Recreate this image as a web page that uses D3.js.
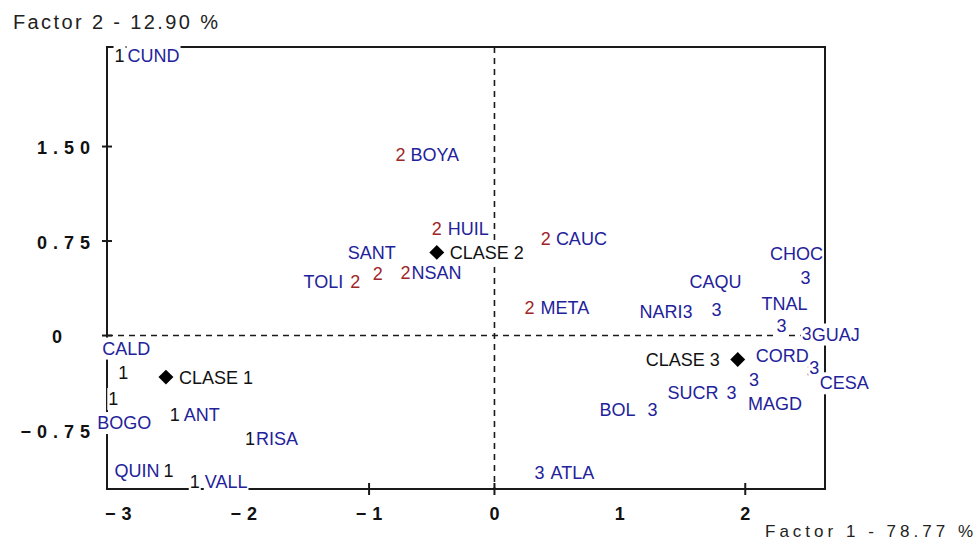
<!DOCTYPE html>
<html>
<head>
<meta charset="utf-8">
<script src="https://cdn.jsdelivr.net/npm/d3@7/dist/d3.min.js"></script>
<style>
  html, body { margin: 0; padding: 0; background: #fff; }
  svg { display: block; }
  text { font-family: "Liberation Sans", Arial, sans-serif; }
</style>
</head>
<body>
<svg id="chart" width="974" height="552"></svg>
<script>
// Departments and their coordinates on the first two factors
const categories = ["CUND", "CALD", "BOGO", "ANT", "RISA", "QUIN", "VALL",
                    "BOYA", "HUIL", "CAUC", "SANT", "NSAN", "TOLI", "META",
                    "CHOC", "CAQU", "NARI", "GUAJ", "TNAL", "CESA", "MAGD", "CORD", "SUCR", "BOL", "ATLA"];
const factor1 = [-2.99, -2.96, -3.04, -2.55, -1.95, -2.60, -2.39,
                 -0.75, -0.46, 0.41, -0.93, -0.71, -1.11, 0.28,
                 2.48, 1.77, 1.54, 2.49, 2.29, 2.53, 2.07, 2.55, 1.89, 1.26, 0.36];
const factor2 = [2.22, -0.29, -0.50, -0.63, -0.82, -1.07, -1.16,
                 1.44, 0.85, 0.77, 0.49, 0.50, 0.43, 0.22,
                 0.46, 0.21, 0.19, 0.02, 0.08, -0.28, -0.35, -0.25, -0.45, -0.59, -1.09];
const cluster = [1, 1, 1, 1, 1, 1, 1,
                 2, 2, 2, 2, 2, 2, 2,
                 3, 3, 3, 3, 3, 3, 3, 3, 3, 3, 3];

// Class centres
const classNames = ["CLASE 1", "CLASE 2", "CLASE 3"];
const classF1 = [-2.62, -0.46, 1.94];
const classF2 = [-0.33, 0.66, -0.19];

// Axis ticks
const xTickValues = [-3, -2, -1, 0, 1, 2];
const xTickMarks = [-1, 0, 2];
const yTickValues = [-0.75, 0, 0.75, 1.5];
const yTickLabels = ["\u22120.75", "0", "0.75", "1.50"];
const axisTitleX = "Factor 1  -  78.77 %";
const axisTitleY = "Factor 2  -  12.90 %";

// Where each name sits relative to its class numeral: side, dx, dy (px)
const labelPlacement = [
  ["right", 8, 0], ["above", 3, -24], ["below", 11, 24], ["right", 9, 0], ["right", 6, 0], ["left", -9, 0], ["right", 10, 0],
  ["right", 10, 0], ["right", 11, 0], ["right", 10, 0], ["above", -6, -21], ["right", 6, 0], ["left", -12, 0], ["right", 11, 0],
  ["above", -9, -24], ["above", -1, -28], ["left", -5, 0], ["right", 5, 1], ["above", 3, -22], ["right", 8, 12],
  ["below", 21, 24], ["above", -32, -12], ["left", -13, 0], ["left", -17, 0], ["right", 11, 0]
];

const BLUE = "#22229a", RED = "#a0252a", INK = "#111";
const numeralColor = { 1: INK, 2: RED, 3: BLUE };

const svg = d3.select("#chart");
const plotLeft = 107, plotRight = 825, plotTop = 47, plotBottom = 489;

const x = d3.scaleLinear().domain([-3.09, 2.636]).range([plotLeft, plotRight]);
const y = d3.scaleLinear().domain([-1.218, 2.29]).range([plotBottom, plotTop]);

// Frame
svg.append("rect")
  .attr("x", plotLeft).attr("y", plotTop)
  .attr("width", plotRight - plotLeft).attr("height", plotBottom - plotTop)
  .attr("fill", "none").attr("stroke", "#1a1a1a").attr("stroke-width", 2);

// Origin lines
svg.append("line")
  .attr("x1", x(0)).attr("x2", x(0)).attr("y1", plotTop).attr("y2", plotBottom)
  .attr("stroke", "#1a1a1a").attr("stroke-width", 1.6).attr("stroke-dasharray", "6,5");
svg.append("line")
  .attr("x1", plotLeft).attr("x2", plotRight).attr("y1", y(0)).attr("y2", y(0))
  .attr("stroke", "#1a1a1a").attr("stroke-width", 1.6).attr("stroke-dasharray", "6,5");

// Tick marks crossing the frame
svg.append("g").selectAll("line").data(xTickMarks).join("line")
  .attr("x1", d => x(d)).attr("x2", d => x(d))
  .attr("y1", plotBottom - 6).attr("y2", plotBottom + 6)
  .attr("stroke", "#1a1a1a").attr("stroke-width", 2);
svg.append("g").selectAll("line").data(yTickValues).join("line")
  .attr("y1", d => y(d)).attr("y2", d => y(d))
  .attr("x1", plotLeft - 5).attr("x2", plotLeft + 5)
  .attr("stroke", "#1a1a1a").attr("stroke-width", 2);

// Tick labels
svg.append("g").selectAll("text").data(xTickValues).join("text")
  .attr("x", d => x(d) + 3).attr("y", 520)
  .attr("text-anchor", "middle")
  .attr("font-size", 18).attr("font-weight", "bold")
  .attr("letter-spacing", 6).attr("fill", INK)
  .text(d => d < 0 ? "\u2212" + Math.abs(d) : String(d));
svg.append("g").selectAll("text").data(yTickValues).join("text")
  .attr("x", d => d === 0 ? 62 + 6 : 90 + 6)
  .attr("y", d => y(d) + 7.5)
  .attr("text-anchor", "end")
  .attr("font-size", 18).attr("font-weight", "bold")
  .attr("letter-spacing", 6).attr("fill", INK)
  .text((d, i) => yTickLabels[i]);

// Axis titles
svg.append("text")
  .attr("x", 13).attr("y", 29)
  .attr("font-size", 20).attr("fill", "#222")
  .attr("textLength", 205).attr("lengthAdjust", "spacing")
  .text(axisTitleY);
svg.append("text")
  .attr("x", 765).attr("y", 537)
  .attr("font-size", 17).attr("fill", "#222")
  .attr("textLength", 208).attr("lengthAdjust", "spacing")
  .text(axisTitleX);

// Text with a white box behind it, hiding whatever lies underneath
function boxedText(g, txt, cx, cy, anchor, color) {
  const t = g.append("text")
    .attr("x", cx).attr("y", cy + 6.5)
    .attr("text-anchor", anchor)
    .attr("font-size", 18)
    .attr("fill", color)
    .text(txt);
  const b = t.node().getBBox();
  g.insert("rect", () => t.node())
    .attr("x", b.x - 1).attr("y", b.y - 1)
    .attr("width", b.width + 2).attr("height", b.height + 2)
    .attr("fill", "#fff");
  return t;
}

const points = categories.map((name, i) => ({
  name, f1: factor1[i], f2: factor2[i], k: cluster[i], place: labelPlacement[i]
}));

const layer = svg.append("g");
points.forEach(p => {
  const g = layer.append("g");
  const px = x(p.f1), py = y(p.f2);
  boxedText(g, String(p.k), px, py, "middle", numeralColor[p.k]);
  const [side, dx, dy] = p.place;
  const anchor = side === "right" ? "start" : side === "left" ? "end" : "middle";
  boxedText(g, p.name, px + dx, py + dy, anchor, BLUE);
});

// Class centres: diamond plus name
const diamond = d3.symbol(d3.symbolSquare, 112);
classNames.forEach((name, i) => {
  const g = layer.append("g");
  const cx = x(classF1[i]), cy = y(classF2[i]);
  const onLeft = i === 2;
  boxedText(g, name, onLeft ? cx - 18 : cx + 13, cy, onLeft ? "end" : "start", INK);
  g.append("path")
    .attr("d", diamond())
    .attr("transform", `translate(${cx},${cy}) rotate(45)`)
    .attr("fill", "#000");
});
</script>
</body>
</html>
